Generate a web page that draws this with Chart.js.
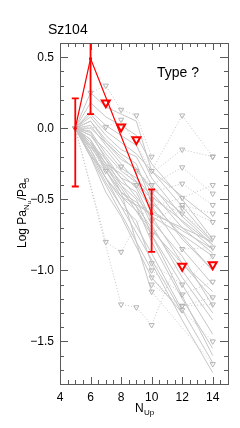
<!DOCTYPE html>
<html lang="en">
<head>
<meta charset="UTF-8">
<title>Sz104</title>
<script src="https://cdn.jsdelivr.net/npm/chart.js"></script>
<style>
  html, body { margin: 0; padding: 0; background: #fff; }
  #wrap { width: 240px; height: 428px; }
</style>
</head>
<body>
<div id="wrap"><canvas id="grafico" width="240" height="428"></canvas></div>
<script>
// upper level N_up of each line
const nUp = [5, 6, 7, 8, 9, 10, 12, 14];

// Sz104: detections, error bars and upper limits
const redDetect = [0, 0.49, null, null, null, -0.60, null, null];
const redLow    = [-0.41, 0.10, null, null, null, -0.87, null, null];
const redHigh   = [0.21, 0.75, null, null, null, -0.43, null, null];
const redLimit  = [null, null, 0.18, 0.01, -0.08, null, -0.97, -0.96];

// comparison sample, detected lines (solid)
const graySolid = [
  [0, 0.25, 0.15, 0.10, 0.05, -0.30, -0.55, -0.80],
  [0, 0.18, 0.08, 0.02, -0.05, -0.25, -0.50, -0.78],
  [0, 0.12, 0.02, -0.05, -0.12, -0.35, -0.62, -0.82],
  [0, 0.08, -0.05, -0.15, -0.20, -0.40, -0.66, -0.85],
  [0, 0.05, -0.10, -0.22, -0.28, -0.45, -0.70, -0.88],
  [0, 0.02, -0.12, -0.25, null, -0.50, -0.78, -1.00],
  [0, -0.02, -0.18, -0.30, -0.38, -0.55, -0.85, -1.10],
  [0, -0.05, -0.20, -0.35, null, -0.62, -0.95, -1.20],
  [0, -0.08, -0.25, -0.38, -0.45, -0.68, -1.05, -1.35],
  [0, -0.10, -0.28, -0.42, null, -0.75, -1.10, -1.45],
  [0, -0.12, -0.30, -0.45, -0.55, -0.80, -1.20, -1.55],
  [0, -0.15, -0.35, -0.50, null, -0.88, -1.28, -1.65],
  [0, -0.18, -0.38, -0.55, -0.65, -0.95, -1.35, -1.72],
  [0, -0.05, -0.15, -0.28, -0.35, -0.48, -0.65, -0.82],
  [0, 0.00, -0.10, -0.20, -0.30, -0.42, -0.60, -0.80],
  [0, -0.10, -0.22, -0.35, -0.40, -0.58, -0.72, -0.85],
  [0, -0.08, -0.30, -0.48, null, -0.60, null, -0.80],
  [0, null, -0.40, -0.60, null, -1.00, null, null],
  [0, -0.20, -0.45, -0.62, null, -1.05, -1.30, null],
  [0, -0.15, -0.35, -0.48, -0.58, -0.72, -0.95, -1.15],
  [0, 0.10, -0.02, -0.10, -0.18, -0.30, -0.48, -0.65],
  [0, -0.12, -0.25, -0.32, -0.42, -0.65, -0.90, -1.25],
  [0, null, null, -0.40, null, -0.70, -1.00, -1.30],
  [0, -0.03, -0.22, -0.40, -0.50, -0.75, -1.18, -1.60],
  [0, 0.05, -0.08, -0.18, -0.25, -0.52, null, -1.00],
  [0, -0.20, -0.30, -0.45, -0.52, -0.62, -0.75, -0.90],
  [0, -0.10, -0.25, -0.45, null, -1.15, null, null],
  [0, null, -0.35, -0.55, null, null, -1.30, null]
];

// comparison sample, upper limits (dotted, open triangles)
const grayDotted = [
  [null, 0.25, 0.30, 0.13, 0.09, -0.20, null, null],
  [0, null, 0.01, 0.06, null, -0.30, 0.09, -0.20],
  [0, null, -0.30, -0.27, -0.40, null, -0.15, -0.20],
  [null, null, null, null, -0.30, -0.40, -0.275, -0.46],
  [null, null, null, null, null, -0.45, -0.39, -0.54],
  [null, null, null, null, null, -0.55, -0.49, -0.40],
  [null, null, null, null, null, -0.65, -0.54, -0.60],
  [null, null, null, null, null, -0.75, -0.56, -0.66],
  [0, null, -0.80, -0.87, null, -0.50, -0.60, -0.77],
  [0, null, null, -1.24, -1.26, -1.385, -0.85, -0.84],
  [null, null, null, null, null, -0.95, -1.10, -0.90],
  [null, null, null, null, null, -1.00, -1.17, -1.08],
  [null, null, null, null, null, -1.10, -1.25, -1.19],
  [null, null, null, null, null, null, -1.25, -1.24],
  [null, null, null, null, null, -1.05, -1.28, -1.50],
  [null, null, null, null, null, -1.15, null, -1.66]
];

const xTickValues = [4, 6, 8, 10, 12, 14];
const yTickValues = [0.5, 0.0, -0.5, -1.0, -1.5];

function pts(vals) {
  const out = [];
  nUp.forEach((n, i) => { if (vals[i] != null) out.push({ x: n, y: vals[i] }); });
  return out;
}

const FONT = '"Liberation Sans", Arial, Helvetica, sans-serif';
const GRAY = '#c6c6c6';

const datasets = [];
datasets.push({
  data: pts(redDetect), borderColor: '#ff0000', borderWidth: 1.2,
  pointRadius: 1.6, pointBackgroundColor: '#ff0000', pointBorderWidth: 0, order: 0
});
datasets.push({
  data: pts(redLimit), showLine: false, pointStyle: 'triangle', rotation: 180,
  pointRadius: 4.6, pointBorderColor: '#ff0000', pointBorderWidth: 2,
  pointBackgroundColor: 'rgba(0,0,0,0)', order: 0
});
graySolid.forEach(s => datasets.push({
  data: pts(s), borderColor: GRAY, borderWidth: 1, pointRadius: 0, order: 2
}));
grayDotted.forEach(s => datasets.push({
  data: pts(s), borderColor: GRAY, borderWidth: 1, borderDash: [1, 2],
  pointStyle: 'triangle', rotation: 180, pointRadius: 3,
  pointBorderColor: '#b4b4b4', pointBorderWidth: 1,
  pointBackgroundColor: 'rgba(0,0,0,0)', order: 1
}));

// error bars, frame, inward ticks and labels
const decor = {
  id: 'decor',
  afterDatasetsDraw(chart) {
    const { ctx, chartArea: a, scales: { x, y } } = chart;
    ctx.save();
    ctx.beginPath();
    ctx.rect(a.left, a.top, a.right - a.left, a.bottom - a.top);
    ctx.clip();
    ctx.strokeStyle = '#ff0000';
    ctx.lineWidth = 1.8;
    nUp.forEach((n, i) => {
      if (redLow[i] == null) return;
      const px = x.getPixelForValue(n);
      const lo = y.getPixelForValue(redLow[i]);
      const hi = y.getPixelForValue(redHigh[i]);
      ctx.beginPath();
      ctx.moveTo(px, lo); ctx.lineTo(px, hi);
      ctx.moveTo(px - 3.5, lo); ctx.lineTo(px + 3.5, lo);
      ctx.moveTo(px - 3.5, hi); ctx.lineTo(px + 3.5, hi);
      ctx.stroke();
    });
    ctx.restore();
  },
  afterDraw(chart) {
    const { ctx, chartArea: a, scales: { x, y } } = chart;
    ctx.save();
    ctx.strokeStyle = '#5a5a5a';
    ctx.lineWidth = 1;
    ctx.strokeRect(Math.round(a.left) + 0.5, Math.round(a.top) + 0.5,
      Math.round(a.right - a.left), Math.round(a.bottom - a.top));

    ctx.beginPath();
    for (let v = 4; v <= 15.001; v += 0.5) {
      const px = Math.round(x.getPixelForValue(v)) + 0.5;
      const len = xTickValues.some(t => Math.abs(t - v) < 1e-6) ? 7 : 4;
      ctx.moveTo(px, a.bottom); ctx.lineTo(px, a.bottom - len);
      ctx.moveTo(px, a.top); ctx.lineTo(px, a.top + len);
    }
    for (let k = -18; k <= 6; k++) {
      const v = k / 10;
      const py = Math.round(y.getPixelForValue(v)) + 0.5;
      const len = (k % 5 === 0) ? 8 : 4;
      ctx.moveTo(a.left, py); ctx.lineTo(a.left + len, py);
      ctx.moveTo(a.right, py); ctx.lineTo(a.right - len, py);
    }
    ctx.stroke();

    ctx.fillStyle = '#000';
    ctx.textBaseline = 'alphabetic';
    ctx.textAlign = 'left';
    ctx.font = '14px ' + FONT;
    ctx.fillText('Sz104', 48, 34);
    ctx.fillText('Type ?', 157, 77);

    // x title N_Up
    ctx.font = '12px ' + FONT;
    ctx.fillText('N', 135, 412);
    ctx.font = '8px ' + FONT;
    ctx.fillText('Up', 144, 415);

    // y title Log Pa_{N_u}/Pa_5, rotated
    ctx.translate(26, 248);
    ctx.rotate(-Math.PI / 2);
    let cx = 0;
    ctx.font = '12px ' + FONT;
    ctx.fillText('Log Pa', cx, 0); cx += ctx.measureText('Log Pa').width;
    ctx.font = '8px ' + FONT;
    ctx.fillText('N', cx, 3); cx += ctx.measureText('N').width;
    ctx.font = '6px ' + FONT;
    ctx.fillText('u', cx, 5); cx += ctx.measureText('u').width + 0.5;
    ctx.font = '12px ' + FONT;
    ctx.fillText('/Pa', cx, 0); cx += ctx.measureText('/Pa').width;
    ctx.font = '8px ' + FONT;
    ctx.fillText('5', cx, 3);
    ctx.restore();
  }
};

new Chart(document.getElementById('grafico'), {
  type: 'line',
  data: { datasets },
  options: {
    responsive: false,
    animation: false,
    devicePixelRatio: 1,
    layout: { padding: { left: 0, top: 43, right: 12, bottom: 0 } },
    plugins: { legend: { display: false }, tooltip: { enabled: false } },
    scales: {
      x: {
        type: 'linear', min: 4, max: 15,
        grid: { display: false, drawTicks: false },
        border: { display: false },
        afterFit: s => { s.height = 44; },
        ticks: {
          stepSize: 2, includeBounds: false, padding: 6, color: '#000',
          autoSkip: false, maxRotation: 0,
          font: { family: FONT, size: 12 },
          callback: v => xTickValues.some(t => Math.abs(t - v) < 1e-6) ? String(v) : ''
        }
      },
      y: {
        type: 'linear', min: -1.8, max: 0.6,
        grid: { display: false, drawTicks: false },
        border: { display: false },
        afterFit: s => { s.width = 60; },
        ticks: {
          stepSize: 0.5, includeBounds: false, padding: 6, color: '#000',
          autoSkip: false,
          font: { family: FONT, size: 12 },
          callback: v => {
            const t = yTickValues.find(t => Math.abs(t - v) < 1e-6);
            if (t === undefined) return '';
            return (t < 0 ? '\u2212' : '') + Math.abs(t).toFixed(1);
          }
        }
      }
    }
  },
  plugins: [decor]
});
</script>
</body>
</html>
